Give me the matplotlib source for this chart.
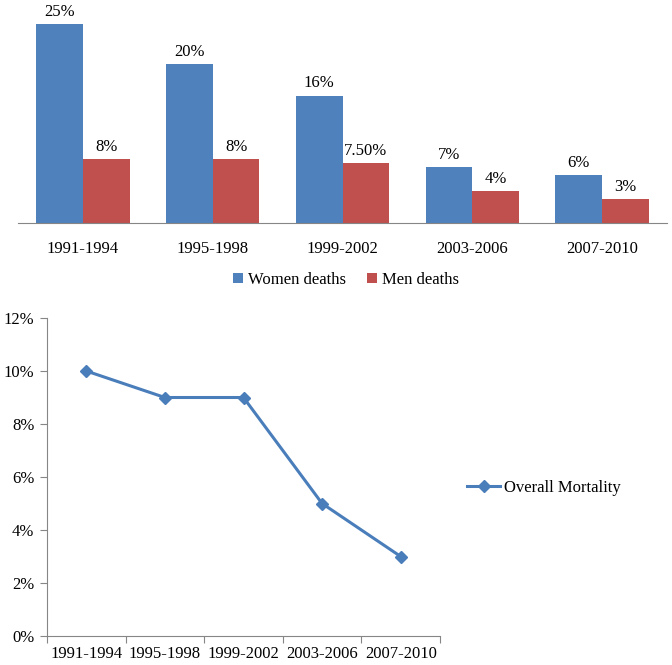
import matplotlib.pyplot as plt
from matplotlib.ticker import PercentFormatter, FixedLocator, NullFormatter

# data
periods = ['1991-1994', '1995-1998', '1999-2002', '2003-2006', '2007-2010']
women_deaths = [25, 20, 16, 7, 6]
men_deaths = [8, 8, 7.5, 4, 3]
women_labels = ['25%', '20%', '16%', '7%', '6%']
men_labels = ['8%', '8%', '7.50%', '4%', '3%']
overall_mortality = [10, 9, 9, 5, 3]

BLUE = '#4F81BD'
RED = '#C0504D'
LINE = '#4A7EBB'
GRAY = '#868686'
W, H = 672, 665

plt.rcParams['font.family'] = ['Liberation Serif', 'DejaVu Serif']
plt.rcParams['font.size'] = 12

fig = plt.figure(figsize=(W / 100, H / 100), dpi=100)


def px_axes(x0, y0, x1, y1):
    """axes from pixel box (top-left origin)"""
    return fig.add_axes([x0 / W, 1 - y1 / H, (x1 - x0) / W, (y1 - y0) / H])


# ---- top: grouped bars ----
ax1 = px_axes(18, 0, 667, 223)
xs = range(len(periods))
bw = 0.36
bars_w = ax1.bar([x - bw / 2 for x in xs], women_deaths, bw, color=BLUE, label='Women deaths')
bars_m = ax1.bar([x + bw / 2 for x in xs], men_deaths, bw, color=RED, label='Men deaths')
for bars, labels in ((bars_w, women_labels), (bars_m, men_labels)):
    for b, lab in zip(bars, labels):
        ax1.annotate(lab, (b.get_x() + b.get_width() / 2, b.get_height()),
                     textcoords='offset points', xytext=(0, 3),
                     ha='center', va='bottom')
ax1.set_xlim(-0.5, len(periods) - 0.5)
ax1.set_ylim(0, 28)
ax1.set_yticks([])
ax1.set_xticks(list(xs))
ax1.set_xticklabels(periods)
ax1.tick_params(axis='x', length=0, pad=13)
for s in ('top', 'right', 'left'):
    ax1.spines[s].set_visible(False)
ax1.spines['bottom'].set_color(GRAY)

fig.legend(handles=[bars_w, bars_m], loc='center',
           bbox_to_anchor=(346 / W, 1 - 280 / H), ncol=2, frameon=False,
           handlelength=0.6, handleheight=0.6, handletextpad=0.3, columnspacing=1.3)

# ---- bottom: overall mortality line ----
ax2 = px_axes(47, 318, 440, 636)
pos = [i + 0.5 for i in range(len(periods))]
ln, = ax2.plot(pos, overall_mortality, color=LINE, lw=2.2, marker='D', ms=6.5,
               label='Overall Mortality')
ax2.set_xlim(0, len(periods))
ax2.set_ylim(0, 12)
ax2.set_yticks(range(0, 13, 2))
ax2.yaxis.set_major_formatter(PercentFormatter(decimals=0))
ax2.xaxis.set_major_locator(FixedLocator(range(len(periods) + 1)))
ax2.xaxis.set_major_formatter(NullFormatter())
ax2.xaxis.set_minor_locator(FixedLocator(pos))
ax2.set_xticklabels(periods, minor=True)
ax2.tick_params(axis='x', which='minor', length=0, pad=7)
ax2.tick_params(axis='x', which='major', length=5, color=GRAY, direction='out')
ax2.tick_params(axis='y', length=5, color=GRAY, pad=4)
for s in ('top', 'right'):
    ax2.spines[s].set_visible(False)
for s in ('left', 'bottom'):
    ax2.spines[s].set_color(GRAY)

fig.legend(handles=[ln], loc='center left', bbox_to_anchor=(452 / W, 1 - 488 / H),
           frameon=False, handlelength=2.0, handletextpad=0.2)

fig.savefig('out.png', dpi=100)
